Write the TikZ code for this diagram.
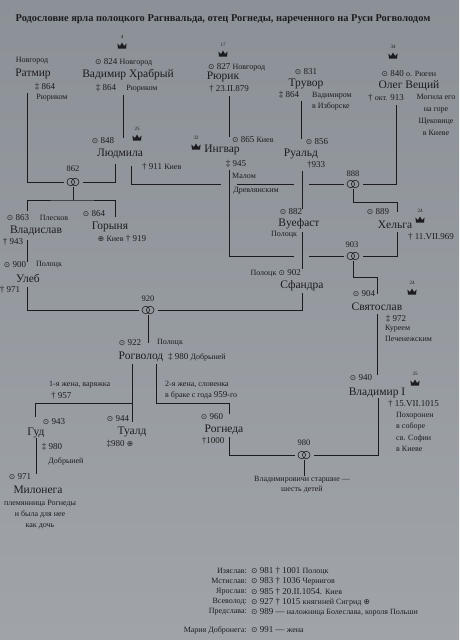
\documentclass[tikz,border=0pt]{standalone}
\usepackage{fontspec}
\setmainfont{Liberation Serif}
\newfontfamily\symf[Scale=0.85]{DejaVu Sans}
\definecolor{ink}{RGB}{28,28,32}
\definecolor{bgtop}{RGB}{140,145,151}
\definecolor{bgbot}{RGB}{160,164,169}
\newcommand\bo{{\symf ⊙}}
\newcommand\bu{{\symf ⊕}}
\newcommand\sml{\fontsize{8}{11.5}\selectfont}
\tikzset{
  nm/.style={font=\fontsize{11.5}{13}\selectfont, inner sep=0pt, text=ink},
  dt/.style={font=\fontsize{9}{10}\selectfont, inner sep=0pt, text=ink},
  sm/.style={font=\sml, inner sep=0pt, text=ink},
  yr/.style={font=\fontsize{8.5}{10}\selectfont, inner sep=0pt, text=ink},
  link/.style={draw=ink, line width=0.7pt},
  rings/.style={minimum width=13pt, minimum height=9pt, inner sep=0pt, outer xsep=3pt,
    path picture={\draw[ink, line width=0.6pt]
      ([xshift=-2.2pt]path picture bounding box.center) circle (3.8pt)
      ([xshift=2.2pt]path picture bounding box.center) circle (3.8pt);}},
  crown/.pic={\node[font=\fontsize{5}{6}\selectfont, inner sep=0pt, text=ink] at (0,-9) {#1};
    \fill[ink] (-4,2.5) -- (-4.6,-2.5) -- (-2,0) -- (0,-3.5) -- (2,0) -- (4.6,-2.5) -- (4,2.5) -- cycle;}
}
\begin{document}
\begin{tikzpicture}[x=1pt,y=-1pt]
\useasboundingbox[top color=bgtop, bottom color=bgbot] (0,0) rectangle (459,640);
\node[font=\bfseries\fontsize{10.4}{12}\selectfont, text=ink] (title) at (223,19) {Родословие ярла полоцкого Рагнвальда, отец Рогнеды, нареченного на Руси Рогволодом};

\pic at (122,46) {crown=4};
\pic at (223,54) {crown=17};
\pic at (393,56) {crown=34};
\pic at (137,138) {crown=25};
\pic at (196,147) {crown=32};
\pic at (420,220) {crown=24};
\pic at (412,292) {crown=24};
\pic at (415,383) {crown=35};

% first generation
\node[sm] (rat-c) at (32,61) {Новгород};
\node[nm] (rat) at (33,74) {Ратмир};
\node[dt] (rat-d) at (45,87) {‡ 864};
\node[sm] (rat-k) at (52,98) {Рюриком};

\node[dt, anchor=west] (vad-b) at (95,62) {\bo\ 824 {\sml Новгород}};
\node[nm] (vad) at (128,75) {Вадимир Храбрый};
\node[dt] (vad-d) at (106,88) {‡ 864};
\node[sm] (vad-k) at (142,89) {Рюриком};

\node[dt, anchor=west] (rur-b) at (208,67) {\bo\ 827 {\sml Новгород}};
\node[nm] (rur) at (223,77) {Рюрик};
\node[dt] (rur-d) at (229,89) {† 23.II.879};

\node[dt] (tru-b) at (306,72) {\bo\ 831};
\node[nm] (tru) at (306,84) {Трувор};
\node[dt] (tru-d) at (289,95) {‡ 864};
\node[sm, align=left, anchor=north west] (tru-k) at (312,92) {Вадимиром\\в Изборске};

\node[dt] (ole-b) at (409,74) {\bo\ 840 {\sml о. Рюген}};
\node[nm] (ole) at (409,86) {Олег Вещий};
\node[dt] (ole-d) at (386,98) {† {\sml окт.} 913};
\node[sm, align=center, font=\fontsize{8}{12}\selectfont] (ole-k) at (436,115) {Могила его\\на горе\\Щековице\\в Киеве};

% second generation
\node[dt] (lyu-b) at (103,141) {\bo\ 848};
\node[nm] (lyu) at (120,154) {Людмила};
\node[dt, anchor=west] (lyu-d) at (142,167) {† 911 {\sml Киев}};

\node[dt, anchor=west] (ing-b) at (232,140) {\bo\ 865 {\sml Киев}};
\node[nm] (ing) at (222,150) {Ингвар};
\node[dt] (ing-d) at (236,164) {‡ 945};
\node[sm] (ing-k1) at (244,176) {Малом};
\node[sm] (ing-k2) at (256,191) {Древлянским};

\node[dt] (rua-b) at (317,142) {\bo\ 856};
\node[nm] (rua) at (301,154) {Руальд};
\node[dt] (rua-d) at (316,165) {†933};

\node[yr] (y862) at (73,169) {862};
\node[rings] (m862) at (73,182) {};
\node[yr] (y888) at (353,174) {888};
\node[rings] (m888) at (353,184) {};

% third generation
\node[dt] (vls-b) at (18,218) {\bo\ 863};
\node[sm] (vls-c) at (54,218) {Плесков};
\node[nm] (vls) at (36,231) {Владислав};
\node[dt] (vls-d) at (13,242) {† 943};

\node[dt] (gor-b) at (94,214) {\bo\ 864};
\node[nm] (gor) at (110,227) {Горыня};
\node[dt] (gor-d) at (122,239) {\bu\ {\sml Киев}\ † 919};

\node[dt] (vue-b) at (291,212) {\bo\ 882};
\node[nm] (vue) at (299,224) {Вуефаст};
\node[sm] (vue-c) at (284,235) {Полоцк};

\node[dt] (hel-b) at (378,212) {\bo\ 889};
\node[nm] (hel) at (395,225) {Хельга};
\node[dt] (hel-d) at (431,237) {† 11.VII.969};

\node[yr] (y903) at (352,245) {903};
\node[rings] (m903) at (353,256) {};

% fourth generation
\node[dt] (ule-b) at (15,265) {\bo\ 900};
\node[sm] (ule-c) at (49,265) {Полоцк};
\node[nm] (ule) at (28,278) {Улеб};
\node[dt] (ule-d) at (10,290) {† 971};

\node[dt, anchor=east] (sfa-b) at (301,273) {{\sml Полоцк}\ \bo\ 902};
\node[nm] (sfa) at (302,286) {Сфандра};

\node[dt] (sva-b) at (364,294) {\bo\ 904};
\node[nm] (sva) at (377,307) {Святослав};
\node[dt] (sva-d) at (396,319) {‡ 972};
\node[sm, align=left, anchor=north west] (sva-k) at (385,325) {Куреем\\Печенежским};

\node[yr] (y920) at (148,299) {920};
\node[rings] (m920) at (148,310) {};

% Rogvolod and his house
\node[dt] (rog-b) at (130,343) {\bo\ 922};
\node[sm] (rog-c) at (170,343) {Полоцк};
\node[nm] (rog) at (141,357) {Рогволод};
\node[dt, anchor=west] (rog-d) at (168,357) {‡ 980 {\sml Добрыней}};

\node[sm, anchor=west] (w1) at (49,385) {1-я жена, варяжка};
\node[dt, anchor=west] (w1-d) at (51,396) {† 957};
\node[sm, anchor=west] (w2) at (165,384) {2-я жена, словенка};
\node[sm, anchor=west] (w2-d) at (165,395) {в браке с года {\fontsize{9}{10}\selectfont 959}-го};

\node[dt] (gud-b) at (54,422) {\bo\ 943};
\node[nm] (gud) at (36,433) {Гуд};
\node[dt] (gud-d) at (52,447) {‡ 980};
\node[sm] (gud-k) at (66,461) {Добрыней};

\node[dt] (tua-b) at (118,419) {\bo\ 944};
\node[nm] (tua) at (132,432) {Туалд};
\node[dt] (tua-d) at (120,444) {‡980 \bu};

\node[dt] (rgn-b) at (212,417) {\bo\ 960};
\node[nm] (rgn) at (224,430) {Рогнеда};
\node[dt] (rgn-d) at (213,441) {†1000};

\node[dt] (vla-b) at (361,378) {\bo\ 940};
\node[nm] (vla) at (377,393) {Владимир I};
\node[dt, anchor=west] (vla-d) at (388,404) {† 15.VII.1015};
\node[sm, align=left, anchor=north west] (vla-k) at (396,412) {Похоронен\\в соборе\\св. Софии\\в Киеве};

\node[yr] (y980) at (304,443) {980};
\node[rings] (m980) at (304,455) {};
\node[sm, align=center, font=\fontsize{8}{10}\selectfont] (v980) at (302,485) {Владимировичи старшие —\\шесть детей};

\node[dt] (mil-b) at (20,477) {\bo\ 971};
\node[nm] (mil) at (38,490) {Милонега};
\node[sm, align=center, font=\fontsize{8}{11}\selectfont] (mil-k) at (40,515) {племянница Рогнеды\\и была для нее\\как дочь};

\foreach \n/\y/\k/\v in {1/571/Изяслав/{\bo\ 981 † 1001 {\sml Полоцк}},
  2/581/Мстислав/{\bo\ 983 † 1036 {\sml Чернигов}},
  3/592/Ярослав/{\bo\ 985 † 20.II.1054. {\sml Киев}},
  4/602/Всеволод/{\bo\ 927 † 1015 {\sml княгиней Сигрид} \bu},
  5/612/Предслава/{\bo\ 989 — {\sml наложница Болеслава, короля Польши}},
  6/630/Мария Добронега/{\bo\ 991 — {\sml жена}}}
{
  \node[sm, anchor=east] (lk\n) at (247,\y) {\k:};
  \node[dt, anchor=west] (lv\n) at (251,\y) {\v};
}

% line ends
\coordinate (rat-o) at (27,93);
\coordinate (vad-o) at (123,95);
\coordinate (rur-o) at (229,96);
\coordinate (tru-o) at (301,101);
\coordinate (ole-o) at (396,105);
\coordinate (lyu-o1) at (115,164);
\coordinate (lyu-o2) at (131,166);
\coordinate (ing-o) at (229,170);
\coordinate (rua-o) at (302,171);
\coordinate (k888) at (397,202);
\coordinate (k862) at (73,200);
\coordinate (vls-t) at (27,211);
\coordinate (gor-t) at (115,217);
\coordinate (vue-o) at (302,232);
\coordinate (hel-o) at (397,232);
\coordinate (vls-o) at (27,240);
\coordinate (k903) at (377,277);
\coordinate (ule-o) at (27,287);
\coordinate (sfa-o) at (302,293);
\coordinate (sva-o) at (377,314);
\coordinate (rog-o1) at (132,364);
\coordinate (rog-o2) at (156,364);
\coordinate (fork1) at (132,403);
\coordinate (gud-t) at (35,417);
\coordinate (rgn-t) at (229,403);
\coordinate (rgn-o) at (229,437);
\coordinate (gud-o) at (36,438);
\coordinate (vla-o) at (378,398);

\draw[link] (rat-o) |- (m862);
\draw[link] (vad-o) -- (vad-o |- lyu-b.north);
\draw[link] (rur-o) -- (rur-o |- ing-b.north);
\draw[link] (tru-o) -- (tru-o |- rua-b.north);
\draw[link] (ole-o) |- (m888);
\draw[link] (lyu-o1) |- (m862);
\draw[link] (lyu-o2) |- ([xshift=-8pt]ing-o |- m888);
\draw[link] ([xshift=8pt]ing-o |- m888) -- ([xshift=-8pt]rua-o |- m888);
\draw[link] ([xshift=7pt]rua-o |- m888) -- (m888);
\draw[link] (ing-o) |- ([xshift=-8pt]vue-o |- m903);
\draw[link] ([xshift=7pt]vue-o |- m903) -- (m903);
\draw[link] (rua-o) -- (rua-o |- vue-b.north);
\draw[link] (m862) -- (k862);
\draw[link] (vls-t) |- (k862) -| (gor-t);
\draw[link] (m888) |- (k888) -- (k888 |- hel-b);
\draw[link] (vue-o) -- (vue-o |- sfa-b.north);
\draw[link] (hel-o) |- (m903);
\draw[link] (vls-o) -- (vls-o |- ule-b.north);
\draw[link] (m903) |- (k903) -- (k903 |- sva-b);
\draw[link] (ule-o) |- (m920);
\draw[link] (sfa-o) |- (m920);
\draw[link] (sva-o) -- (sva-o |- vla-b.north);
\draw[link] (m920) -- (m920 |- rog-b);
\draw[link] (rog-o1) -- (rog-o1 |- tua-b.south);
\draw[link] (fork1) -| (gud-t);
\draw[link] (rog-o2) |- (rgn-t) -- (rgn-t |- rgn-b.north);
\draw[link] (rgn-o) |- (m980);
\draw[link] (vla-o) |- (m980);
\draw[link] (m980) -- (m980 |- v980.north);
\draw[link] (gud-o) -- (gud-o |- mil-b.north);
\end{tikzpicture}
\end{document}
